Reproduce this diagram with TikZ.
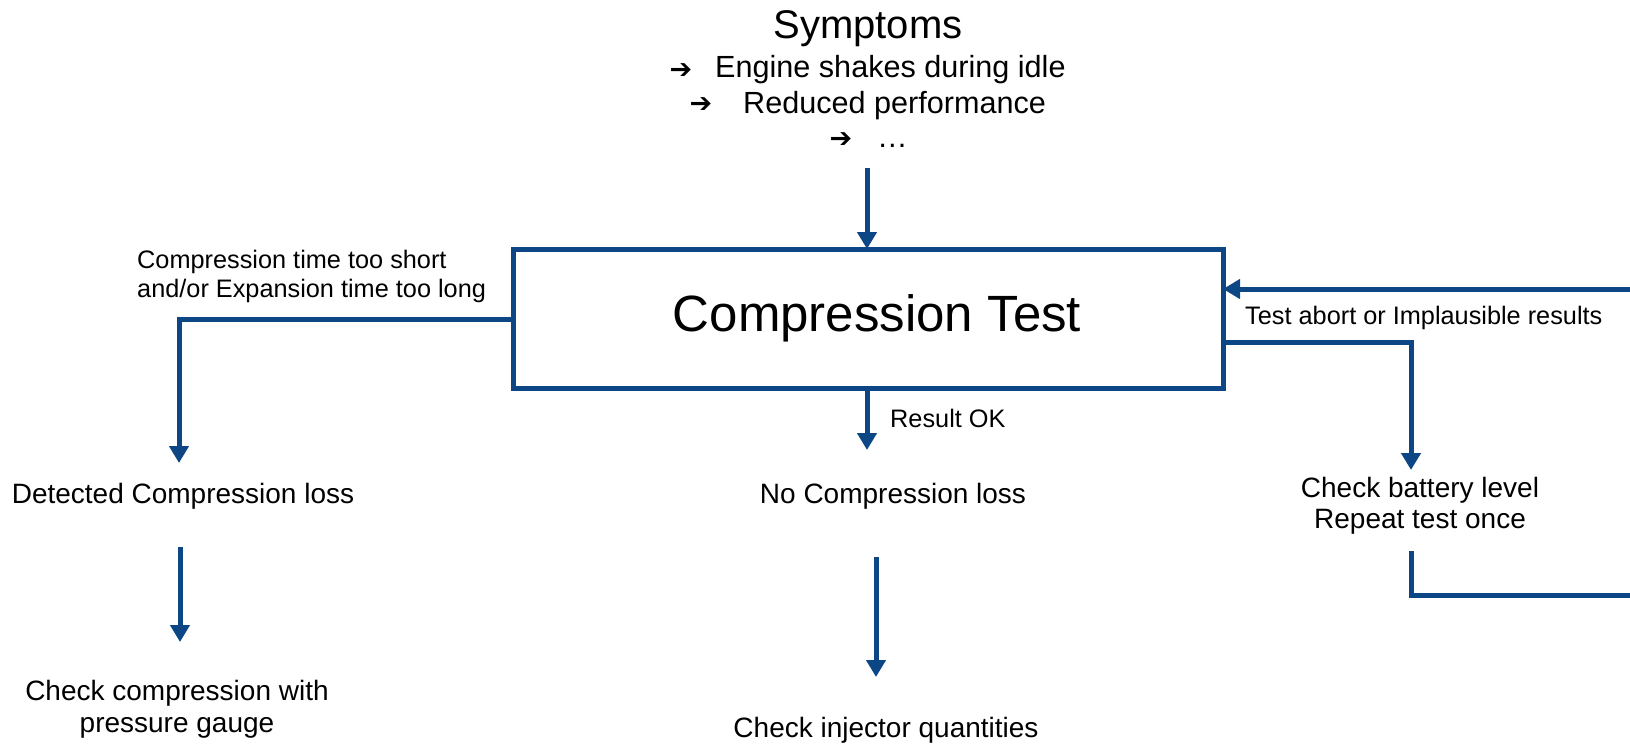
\documentclass[tikz,border=0pt]{standalone}
\usepackage{fontspec}
\setmainfont{Liberation Sans}
\newfontfamily\symfont{DejaVu Sans}
\usetikzlibrary{arrows.meta}
\definecolor{navy}{RGB}{12,70,133}
\begin{document}
\begin{tikzpicture}[x=1pt,y=-1pt,
  conn/.style={draw=navy,line width=5pt},
  arr/.style={conn,-{Triangle[length=17pt,width=19pt]}},
  txt/.style={inner sep=0pt,anchor=base,font=\fontsize{28}{32}\selectfont},
  small/.style={inner sep=0pt,anchor=base west,font=\fontsize{25.3}{29}\selectfont},
  symline/.style={inner sep=0pt,anchor=base west,font=\fontsize{30.6}{34}\selectfont},
  bullet/.style={inner sep=0pt,font=\symfont\bfseries\fontsize{27}{30}\selectfont},
  mainbox/.style={draw=navy,line width=5pt,outer sep=0pt,minimum width=710pt,minimum height=139pt}
]
\useasboundingbox (0,0) rectangle (1630,744);

% symptoms
\node[inner sep=0pt,anchor=base,font=\fontsize{40}{44}\selectfont] (symt) at (868,38) {Symptoms};
\node[bullet] (b1) at (681,71) {➔};
\node[symline] (s1) at (715,77) {Engine shakes during idle};
\node[bullet] (b2) at (701,105) {➔};
\node[symline] (s2) at (743,113) {Reduced performance};
\node[bullet] (b3) at (841,140) {➔};
\node[symline] (s3) at (877,147) {…};

% main box
\node[mainbox] (box) at (868,318.5) {};
\node[inner sep=0pt,font=\fontsize{51}{56}\selectfont] (boxlbl) at (877,318) {Compression Test};

% labels
\node[small] (c1) at (137,268) {Compression time too short};
\node[small] (c2) at (137,297) {and/or Expansion time too long};
\node[small] (ok) at (890,427) {Result OK};
\node[small] (ab) at (1245,324) {Test abort or Implausible results};

% outcome texts
\node[txt] (det) at (183,503) {Detected Compression loss};
\node[txt] (cc1) at (177,700) {Check compression with};
\node[txt] (cc2) at (177,732) {pressure gauge};
\node[txt] (noc) at (893,503) {No Compression loss};
\node[txt] (inj) at (886,737) {Check injector quantities};
\node[txt] (bat1) at (1420,497) {Check battery level};
\node[txt] (bat2) at (1420,528) {Repeat test once};

% helper coordinates
\coordinate (symend) at (867,168);
\coordinate (lcorner) at (179,319);
\coordinate (ltip) at (179,463);
\coordinate (oktip) at (867,450);
\coordinate (dstart) at (180,547);
\coordinate (dtip) at (180,642);
\coordinate (nstart) at (876,557);
\coordinate (ntip) at (876,677);
\coordinate (rcorner) at (1411,342);
\coordinate (rtip) at (1411,470);
\coordinate (bstart) at (1411,551);
\coordinate (bcorner) at (1411,595);
\coordinate (bend) at (1630,595);
\coordinate (fstart) at (1630,289);

% connectors
\draw[arr] (symend) -- (symend |- box.north);
\draw[arr] (box.west |- lcorner) -- (lcorner) -- (ltip);
\draw[arr] (box.south -| oktip) -- (oktip);
\draw[arr] (dstart) -- (dtip);
\draw[arr] (nstart) -- (ntip);
\draw[arr] (box.east |- rcorner) -- (rcorner) -- (rtip);
\draw[conn] (bstart) -- (bcorner) -- (bend);
\draw[arr] (fstart) -- (fstart -| box.east);
\end{tikzpicture}
\end{document}
